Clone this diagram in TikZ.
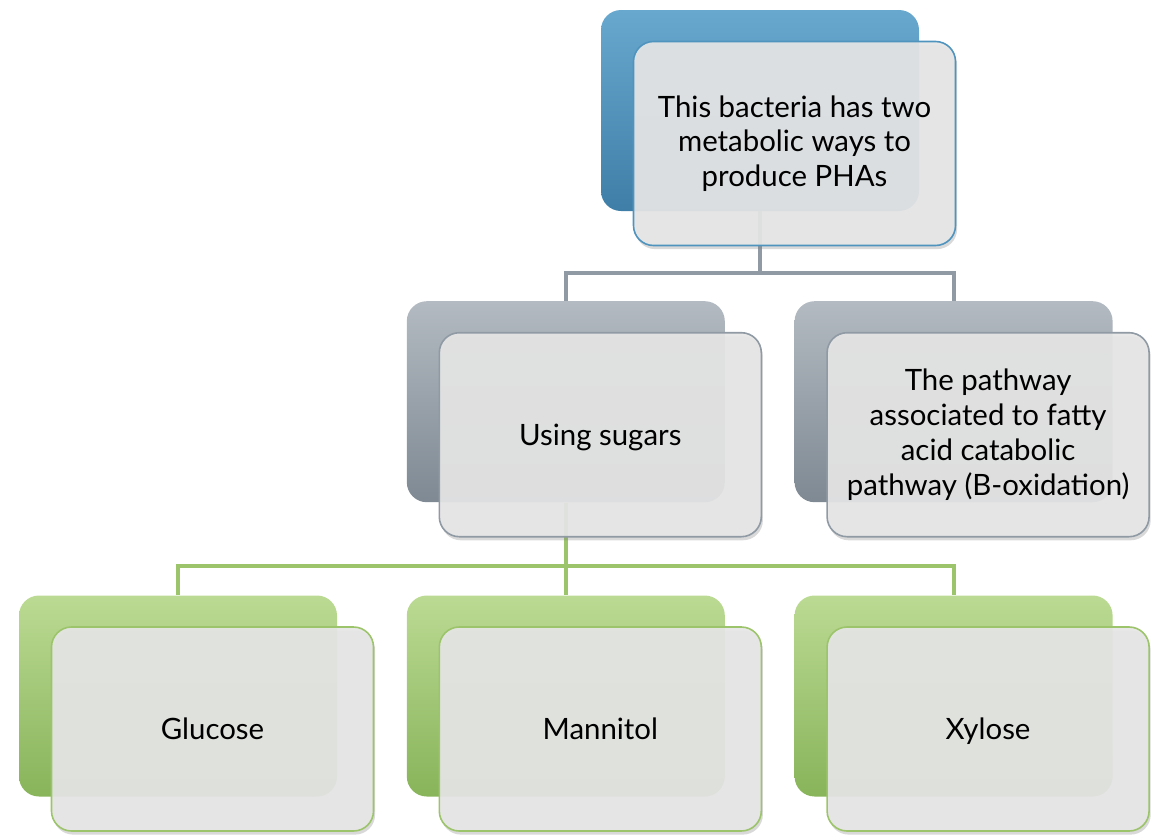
\documentclass[tikz,border=0pt]{standalone}
\usepackage{fontspec}
\setmainfont{Lato}
\usetikzlibrary{positioning, shadows, backgrounds}

\definecolor{pathBlueTop}{HTML}{68A8CF}
\definecolor{pathBlueBot}{HTML}{3F7FA7}
\definecolor{pathBlueLine}{HTML}{4F94BE}
\definecolor{pathGrayTop}{HTML}{B3BAC1}
\definecolor{pathGrayBot}{HTML}{7E8993}
\definecolor{pathGrayLine}{HTML}{8F9AA4}
\definecolor{pathGreenTop}{HTML}{BBDA93}
\definecolor{pathGreenBot}{HTML}{88B45A}
\definecolor{pathGreenLine}{HTML}{9CC46A}
\definecolor{pathCard}{HTML}{E6E6E6}

\begin{document}
\begin{tikzpicture}[
    x=0.5pt, y=-0.5pt,
    font=\fontsize{14.7}{17.4}\selectfont,
    % Style definitions
    back/.style={rounded corners=10pt, minimum width=159pt, minimum height=100.5pt, inner sep=0pt},
    backblue/.style={back, top color=pathBlueTop, bottom color=pathBlueBot},
    backgray/.style={back, top color=pathGrayTop, bottom color=pathGrayBot},
    backgreen/.style={back, top color=pathGreenTop, bottom color=pathGreenBot},
    card/.style={draw, line width=0.8pt, rounded corners=10pt, minimum width=161pt, minimum height=102pt, inner sep=2pt,
        fill=pathCard, fill opacity=0.92, text opacity=1, align=center,
        drop shadow={shadow xshift=0.8pt, shadow yshift=-1.8pt, opacity=0.3}},
    cardblue/.style={card, draw=pathBlueLine},
    cardgray/.style={card, draw=pathGrayLine},
    cardgreen/.style={card, draw=pathGreenLine},
    oneline/.style={text height=10.6pt, text depth=0pt},
    offset/.style={xshift=17.25pt, yshift=-16.5pt},
    grayline/.style={draw=pathGrayLine, line width=2pt},
    greenline/.style={draw=pathGreenLine, line width=2pt},
]
\useasboundingbox (0,0) rectangle (1161,835);

%% ---------- BOTTOM ROW (SUGARS) ----------
\node[backgreen] (glucose_bg) at (178,696) {};
\node[backgreen, right=34.5pt of glucose_bg] (mannitol_bg) {};
\node[backgreen, right=34.5pt of mannitol_bg] (xylose_bg) {};

%% ---------- MIDDLE ROW (PATHWAYS) ----------
\node[backgray, above=46.25pt of mannitol_bg] (sugars_bg) {};
\node[backgray, above=46.25pt of xylose_bg] (fatty_bg) {};

%% ---------- TOP ----------
\node[backblue] (top_bg) at (760,110.5) {};

%% ---------- FRONT CARDS ----------
\node[cardblue] (top) at ([offset]top_bg.center) {This bacteria has two\\metabolic ways to\\produce PHAs};
\node[cardgray, oneline] (sugars) at ([offset]sugars_bg.center) {Using sugars};
\node[cardgray] (fatty) at ([offset]fatty_bg.center) {The pathway\\associated to fatty\\acid catabolic\\pathway (B-oxidation)};
\node[cardgreen, oneline] (glucose) at ([offset]glucose_bg.center) {Glucose};
\node[cardgreen, oneline] (mannitol) at ([offset]mannitol_bg.center) {Mannitol};
\node[cardgreen, oneline] (xylose) at ([offset]xylose_bg.center) {Xylose};

%% ========== CONNECTORS ==========
\begin{scope}[on background layer]
    \draw[grayline] (top_bg.south) -- ++(0,62) -| (sugars_bg.north);
    \draw[grayline] (top_bg.south) -- ++(0,62) -| (fatty_bg.north);
    \draw[greenline] (sugars_bg.south) -- ++(0,63) -| (glucose_bg.north);
    \draw[greenline] (sugars_bg.south) -- ++(0,63) -| (mannitol_bg.north);
    \draw[greenline] (sugars_bg.south) -- ++(0,63) -| (xylose_bg.north);
\end{scope}

\end{tikzpicture}
\end{document}
